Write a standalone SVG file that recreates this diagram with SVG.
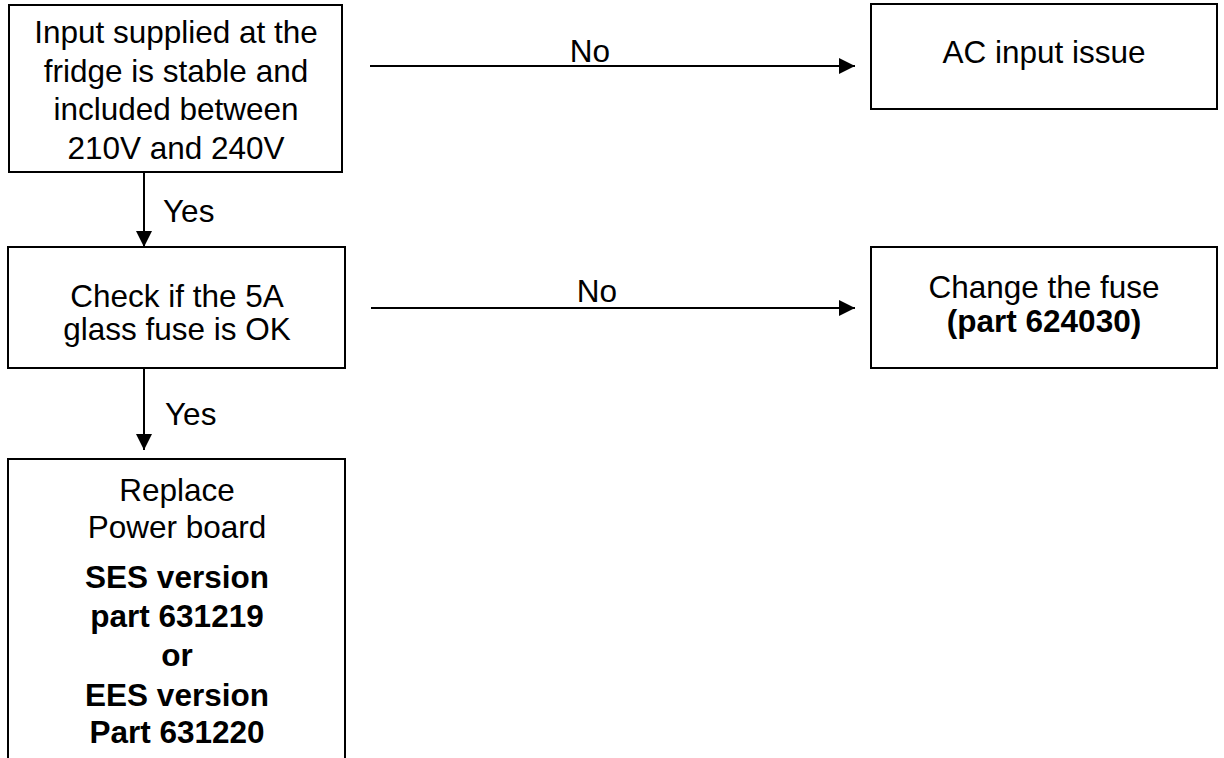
<svg xmlns="http://www.w3.org/2000/svg" width="1224" height="758" viewBox="0 0 1224 758">
<style>
.box{fill:#fff;stroke:#000;stroke-width:2}
.t{font-family:"Liberation Sans",Arial,sans-serif;font-size:31.5px;fill:#000;text-anchor:middle}
.b{font-weight:bold}
.lbl{font-family:"Liberation Sans",Arial,sans-serif;font-size:31.5px;fill:#000}
.c{stroke:#000;stroke-width:2;fill:none}
</style>
<defs>
<marker id="ah" viewBox="0 0 16 16" refX="16" refY="8" markerWidth="16" markerHeight="16" markerUnits="userSpaceOnUse" orient="auto">
<path d="M0,0 L16,8 L0,16 Z" fill="#000"/>
</marker>
</defs>
<rect width="1224" height="758" fill="#fff"/>
<g id="n1">
<rect class="box" x="9" y="5" width="333" height="167"/>
<text class="t" x="176" y="43">Input supplied at the</text>
<text class="t" x="176" y="82">fridge is stable and</text>
<text class="t" x="176" y="120">included between</text>
<text class="t" x="176" y="159">210V and 240V</text>
</g>
<g id="n2">
<rect class="box" x="871" y="4" width="346" height="105"/>
<text class="t" x="1044" y="63">AC input issue</text>
</g>
<g id="n3">
<rect class="box" x="8" y="247" width="337" height="121"/>
<text class="t" x="177" y="307">Check if the 5A</text>
<text class="t" x="177" y="340">glass fuse is OK</text>
</g>
<g id="n4">
<rect class="box" x="871" y="247" width="346" height="121"/>
<text class="t" x="1044" y="298">Change the fuse</text>
<text class="t b" x="1044" y="332">(part 624030)</text>
</g>
<g id="n5">
<rect class="box" x="8" y="459" width="337" height="340"/>
<text class="t" x="177" y="501">Replace</text>
<text class="t" x="177" y="538">Power board</text>
<text class="t b" x="177" y="588">SES version</text>
<text class="t b" x="177" y="627">part 631219</text>
<text class="t b" x="177" y="666">or</text>
<text class="t b" x="177" y="706">EES version</text>
<text class="t b" x="177" y="743">Part 631220</text>
</g>
<g id="connectors">
<line class="c" x1="370" y1="66" x2="855" y2="66" marker-end="url(#ah)"/>
<text class="lbl" x="590" y="62" text-anchor="middle">No</text>
<line class="c" x1="371" y1="308" x2="855" y2="308" marker-end="url(#ah)"/>
<text class="lbl" x="597" y="302" text-anchor="middle">No</text>
<line class="c" x1="144" y1="172" x2="144" y2="247" marker-end="url(#ah)"/>
<text class="lbl" x="163" y="222">Yes</text>
<line class="c" x1="144" y1="368" x2="144" y2="450" marker-end="url(#ah)"/>
<text class="lbl" x="165" y="425">Yes</text>
</g>
</svg>
